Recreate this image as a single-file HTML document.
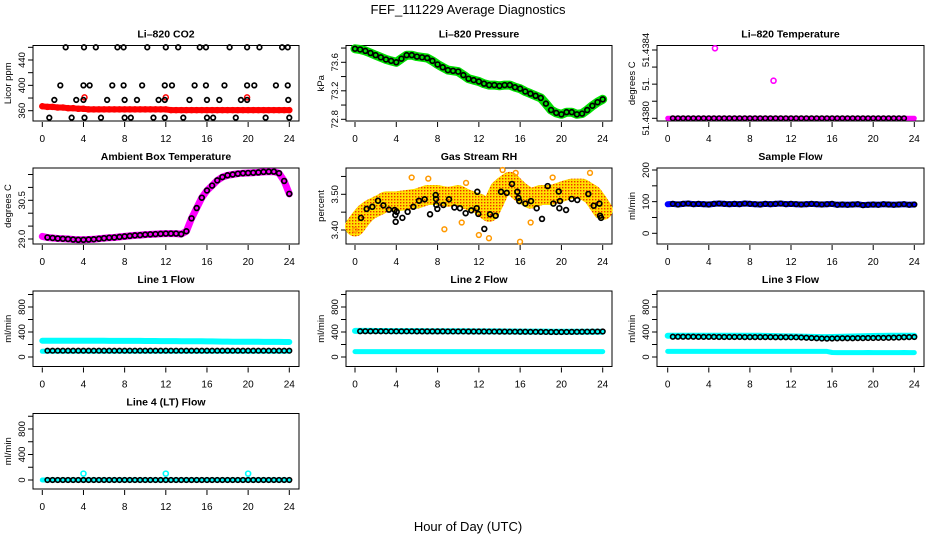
<!DOCTYPE html>
<html><head><meta charset="utf-8"><style>
html,body{margin:0;padding:0;background:#fff}
svg{display:block}
text{font-family:"Liberation Sans",sans-serif}
</style></head><body>
<svg id="chart" width="936" height="540" viewBox="0 0 936 540" xmlns="http://www.w3.org/2000/svg">
<defs>
<pattern id="rhpat" width="3" height="3" patternUnits="userSpaceOnUse">
<rect width="3" height="3" fill="#ffe000"/><rect x="1" y="1" width="1.4" height="1.4" fill="#f03000"/>
</pattern>
</defs>
<text x="468" y="14" font-size="13" text-anchor="middle">FEF_111229  Average Diagnostics</text>
<text x="468" y="531" font-size="13" text-anchor="middle">Hour of Day (UTC)</text>
</svg>
<script>
const hrs=[0,0.5,1,1.5,2,2.5,3,3.5,4,4.5,5,5.5,6,6.5,7,7.5,8,8.5,9,9.5,10,10.5,11,11.5,12,12.5,13,13.5,14,14.5,15,15.5,16,16.5,17,17.5,18,18.5,19,19.5,20,20.5,21,21.5,22,22.5,23,23.5,24];
const xTicks=[0,4,8,12,16,20,24];
const co2Red=[367,366,366,365,365,364,364,363,363,362,362,362,362,362,362,362,362,362,362,362,362,362,362,362,362,361,361,361,361,361,361,361,361,361,361,361,361,361,361,361,361,361,361,361,361,361,361,361,361];
const co2RedOutHr=[4.1,12.0,19.9];
const co2RedOutVal=[381,381,381];
const co2BlkHr=[2.27,4.05,5.2,7.3,7.9,10.2,12.0,13.2,15.3,15.9,18.2,19.9,21.1,23.3,23.85,1.75,4.0,4.6,6.8,7.9,9.7,11.9,12.6,14.8,15.9,17.7,19.9,20.6,22.7,23.85,1.17,3.3,4.0,6.3,8.0,9.2,11.3,11.9,14.3,16.0,17.2,19.3,19.9,23.9,0.68,2.85,4.1,5.7,8.0,8.6,10.8,11.9,13.7,16.0,16.6,18.8,21.7,24.0];
const co2BlkVal=[460,460,460,460,460,460,460,460,460,460,460,460,460,460,460,400,400,400,400,400,400,400,400,400,400,400,400,400,400,400,377,377,377,377,377,377,377,377,377,377,377,377,377,377,349,349,349,349,349,349,349,349,349,349,349,349,349,349];
const pressure=[73.79,73.78,73.76,73.73,73.70,73.67,73.64,73.62,73.60,73.65,73.70,73.70,73.68,73.67,73.66,73.62,73.57,73.53,73.49,73.48,73.47,73.42,73.37,73.35,73.33,73.30,73.28,73.28,73.27,73.28,73.28,73.25,73.23,73.19,73.16,73.13,73.10,73.02,72.93,72.89,72.87,72.90,72.90,72.87,72.88,72.93,72.99,73.04,73.08];
const liTemp=[51.4380,51.4380,51.4380,51.4380,51.4380,51.4380,51.4380,51.4380,51.4380,51.4380,51.4380,51.4380,51.4380,51.4380,51.4380,51.4380,51.4380,51.4380,51.4380,51.4380,51.4380,51.4380,51.4380,51.4380,51.4380,51.4380,51.4380,51.4380,51.4380,51.4380,51.4380,51.4380,51.4380,51.4380,51.4380,51.4380,51.4380,51.4380,51.4380,51.4380,51.4380,51.4380,51.4380,51.4380,51.4380,51.4380,51.4380,51.4380,51.4380];
const liTempOutHr=[4.6,10.3];
const liTempOutVal=[51.43841,51.43822];
const ambient=[29.10,29.06,29.04,29.02,29.01,29.00,28.98,28.97,28.97,28.98,28.99,29.01,29.03,29.05,29.06,29.08,29.10,29.12,29.14,29.15,29.17,29.18,29.19,29.20,29.21,29.21,29.21,29.19,29.30,29.80,30.20,30.60,30.88,31.07,31.27,31.40,31.47,31.50,31.53,31.55,31.56,31.57,31.58,31.60,31.61,31.61,31.55,31.25,30.75];
const rhBand=[3.41,3.43,3.447,3.458,3.465,3.472,3.48,3.48,3.48,3.482,3.484,3.486,3.488,3.493,3.498,3.498,3.498,3.495,3.493,3.495,3.498,3.49,3.484,3.479,3.474,3.462,3.451,3.48,3.512,3.525,3.535,3.52,3.507,3.497,3.488,3.493,3.498,3.498,3.498,3.502,3.507,3.512,3.516,3.516,3.516,3.507,3.498,3.478,3.456];
const rhOutHr=[0,5.49,8.66,10.34,12.0,12.98,14.3,15.57,15.99,17.02,19.15,22.77,7.1,10.76];
const rhOutVal=[3.40,3.547,3.402,3.421,3.386,3.377,3.568,3.560,3.367,3.421,3.547,3.560,3.544,3.532];
const rhBlkHr=[0.58,1.13,1.68,2.23,2.75,3.29,3.84,3.91,4.04,3.94,4.59,5.10,5.65,6.20,6.75,7.27,7.82,7.85,7.88,7.98,8.56,9.11,9.63,10.17,10.72,11.27,11.79,11.85,11.95,12.53,13.08,13.63,14.15,14.70,15.21,15.73,15.83,15.92,16.51,17.05,17.60,18.12,18.67,19.22,19.74,19.80,19.86,20.45,20.99,21.54,22.61,23.13,23.68,23.74,23.84];
const rhBlkVal=[3.434,3.459,3.465,3.482,3.469,3.457,3.456,3.442,3.451,3.423,3.434,3.451,3.465,3.482,3.486,3.444,3.498,3.487,3.470,3.459,3.470,3.486,3.463,3.461,3.447,3.455,3.461,3.507,3.445,3.403,3.444,3.440,3.507,3.504,3.529,3.507,3.490,3.481,3.474,3.481,3.461,3.431,3.523,3.474,3.508,3.461,3.481,3.456,3.487,3.484,3.501,3.468,3.474,3.440,3.434];
const sampleFlow=[92,93,91,93,94,92,93,92,91,93,94,93,92,93,92,94,93,92,91,93,92,93,94,92,93,92,91,92,93,92,91,92,93,90,91,90,91,92,89,90,91,90,92,91,90,91,92,90,91];
const line1Up=[261,261,261,261,261,260,260,260,260,259,259,259,259,258,258,258,258,257,257,257,256,256,256,255,255,254,254,253,253,252,252,251,250,249,248,247,246,245,245,244,244,243,243,242,242,241,241,240,240];
const line1Low=[91,91,91,91,91,91,91,91,91,91,91,91,91,91,91,91,91,91,91,91,91,91,91,91,91,91,91,91,91,91,91,91,91,91,91,91,91,91,91,91,91,91,91,91,91,91,91,91,91];
const line1Blk=[101,101,101,101,101,101,101,101,101,101,101,101,101,101,101,101,101,101,101,101,101,101,101,101,101,101,101,101,101,101,101,101,101,101,101,101,101,101,101,101,101,101,101,101,101,101,101,101,101];
const line2Up=[418,417,417,417,416,416,416,415,415,415,415,414,414,414,413,413,413,412,412,412,411,411,411,410,410,410,409,409,409,408,408,408,407,407,407,406,406,406,405,405,405,405,405,405,405,405,405,405,405];
const line2Low=[86,86,86,86,86,86,86,86,86,86,86,86,86,86,86,86,86,86,86,86,86,86,86,86,86,86,86,86,86,86,86,86,86,86,86,86,86,86,86,86,86,86,86,86,86,86,86,86,86];
const line2Blk=[412,412,412,412,412,412,411,411,411,411,411,411,410,410,410,410,410,410,409,409,409,409,408,408,408,408,407,407,406,406,405,405,404,404,403,403,402,401,400,400,400,401,402,403,404,405,406,407,408];
const line3Up=[340,340,340,340,340,340,340,340,340,340,340,340,340,340,340,340,340,340,340,338,336,334,332,330,330,328,326,324,322,320,318,318,320,322,324,326,328,330,332,334,336,338,338,340,340,340,340,340,340];
const line3Low=[90,90,90,90,90,90,90,90,90,90,90,90,90,90,90,90,90,90,90,90,90,90,90,90,90,90,90,90,90,90,90,90,72,70,70,70,70,70,70,72,70,70,70,70,70,70,72,70,70];
const line3Blk=[324,324,324,324,324,324,322,322,322,322,320,320,320,320,320,318,318,318,318,318,318,316,316,316,315,315,312,308,304,300,296,294,296,298,300,300,300,302,302,304,304,306,306,308,310,312,316,318,320];
const line4Flow=[0,0,0,0,0,0,0,0,0,0,0,0,0,0,0,0,0,0,0,0,0,0,0,0,0,0,0,0,0,0,0,0,0,0,0,0,0,0,0,0,0,0,0,0,0,0,0,0,0];
const line4OutHr=[4,12,20];
const line4OutVal=[100,100,100];

const NS='http://www.w3.org/2000/svg';
const svg=document.getElementById('chart');
const cols=[{bl:33,br:299,x0:42.3,x24:289.3},{bl:346,br:612,x0:355,x24:602.7},{bl:657,br:924,x0:667.7,x24:914.3}];
const rows=[{t:45.5,b:121},{t:168,b:244},{t:291,b:366.5},{t:413.5,b:489}];
function el(parent,tag,attrs){const e=document.createElementNS(NS,tag);for(const k in attrs)e.setAttribute(k,attrs[k]);parent.appendChild(e);return e;}
function makePanel(p){
  const c=cols[p.col],r=rows[p.row];
  const g=el(svg,'g',{});
  
  
  p.g=g;
  p.x=h=>c.x0+h*(c.x24-c.x0)/24;
  p.y=v=>p.yA+(v-p.vA)*(p.yB-p.yA)/(p.vB-p.vA);
  const t=el(g,'text',{x:(c.bl+c.br)/2,y:r.t-8,'font-size':10.5,'font-weight':'bold','text-anchor':'middle'});
  t.textContent=p.title;
  
  
  const box=el(g,'rect',{x:c.bl,y:r.t,width:c.br-c.bl,height:r.b-r.t,fill:'none',stroke:'#000','stroke-width':1});
  
  
  const yl=el(g,'text',{x:0,y:0,'font-size':9.5,'text-anchor':'middle',transform:`translate(${c.bl-22},${(r.t+r.b)/2}) rotate(-90)`});
  yl.textContent=p.ylab;
  
  
  p.ticks.forEach(v=>{
    const yy=p.y(v);
    const tk=el(g,'line',{x1:c.bl-5,x2:c.bl,y1:yy,y2:yy,stroke:'#000'});
    
    
  });
  p.labels.forEach((lab,i)=>{
    const yy=p.y(p.labelVals[i]);
    const tx=el(g,'text',{x:0,y:0,'font-size':9.5,'text-anchor':'middle',transform:`translate(${c.bl-8},${yy}) rotate(-90)`});
    tx.textContent=lab;
    
    
  });
  xTicks.forEach(h=>{
    const xx=p.x(h);
    const tk=el(g,'line',{x1:xx,x2:xx,y1:r.b+1,y2:r.b+6,stroke:'#000'});
    
    
    const tx=el(g,'text',{x:xx,y:r.b+21,'font-size':10,'text-anchor':'middle'});
    tx.textContent=String(h);
    
    
  });
  return p;
}
function band(p,xs,ys,color,w,name){
  const pts=xs.map((h,i)=>p.x(h).toFixed(1)+','+p.y(ys[i]).toFixed(1)).join(' ');
  const pl=el(p.g,'polyline',{points:pts,fill:'none',stroke:color,'stroke-width':w,'stroke-linejoin':'round','stroke-linecap':'round'});
  
  
}
function dots(p,xs,ys,color,rad,sw,name){
  xs.forEach((h,i)=>{
    const ci=el(p.g,'circle',{cx:p.x(h),cy:p.y(ys[i]),r:rad,fill:'none',stroke:color,'stroke-width':sw});
    
    
  });
}
const range=(a,b,s)=>{const o=[];for(let v=a;v<=b+1e-9;v+=s)o.push(+v.toFixed(6));return o;};

const p1=makePanel({name:'co2',col:0,row:0,title:'Li–820 CO2',ylab:'Licor ppm',vA:360,yA:110.7,vB:440,yB:60,ticks:range(360,460,20),labels:['360','400','440'],labelVals:[360,400,440]});
band(p1,hrs,co2Red,'#ff0000',6,'co2-red-series');
dots(p1,hrs,co2Red,'#ff0000',2.5,1.5,'co2-red-point');
dots(p1,co2RedOutHr,co2RedOutVal,'#ff0000',2.5,1.5,'co2-red-outlier');
dots(p1,co2BlkHr,co2BlkVal,'#000',2.3,1.7,'co2-black-point');

const p2=makePanel({name:'pressure',col:1,row:0,title:'Li–820 Pressure',ylab:'kPa',vA:72.8,yA:119.3,vB:73.6,yB:62.3,ticks:range(72.8,73.8,0.2),labels:['72.8','73.2','73.6'],labelVals:[72.8,73.2,73.6]});
band(p2,hrs,pressure,'#00e000',9,'pressure-green-series');
dots(p2,hrs,pressure,'#000',2.4,1.7,'pressure-black-point');

const p3=makePanel({name:'li-temperature',col:2,row:0,title:'Li–820 Temperature',ylab:'degrees C',vA:51.4380,yA:118.3,vB:51.4384,yB:50,ticks:range(51.4380,51.4384,0.0001),labels:['51.4380','51.','51.4384'],labelVals:[51.4380,51.4382,51.4384]});
band(p3,hrs,liTemp,'#ff00ff',5,'li-temperature-magenta-series');
dots(p3,hrs.slice(1,47),liTemp.slice(1,47),'#000',2.3,1.6,'li-temperature-black-point');
dots(p3,liTempOutHr,liTempOutVal,'#ff00ff',2.5,1.6,'li-temperature-outlier');

const p4=makePanel({name:'ambient-temperature',col:0,row:1,title:'Ambient Box Temperature',ylab:'degrees C',vA:29.0,yA:239,vB:30.5,yB:200.3,ticks:range(29.0,31.5,0.5),labels:['29.0','30.5'],labelVals:[29.0,30.5]});
band(p4,hrs,ambient,'#ff00ff',7,'ambient-magenta-series');
dots(p4,hrs.slice(1),ambient.slice(1),'#000',2.4,1.7,'ambient-black-point');

const p5=makePanel({name:'gas-stream-rh',col:1,row:1,title:'Gas Stream RH',ylab:'percent',vA:3.40,yA:230,vB:3.50,yB:194.3,ticks:range(3.40,3.55,0.05),labels:['3.40','3.50'],labelVals:[3.40,3.50]});
band(p5,hrs,rhBand,'url(#rhpat)',20,'rh-orange-cloud');
dots(p5,rhOutHr,rhOutVal,'#ff9900',2.4,1.5,'rh-orange-outlier');
dots(p5,rhBlkHr,rhBlkVal,'#000',2.4,1.7,'rh-black-point');

const p6=makePanel({name:'sample-flow',col:2,row:1,title:'Sample Flow',ylab:'ml/min',vA:0,yA:233.3,vB:200,yB:170,ticks:range(0,200,50),labels:['0','100','200'],labelVals:[0,100,200]});
band(p6,hrs,sampleFlow,'#0000ff',6,'sample-flow-blue-series');
dots(p6,hrs.slice(1),sampleFlow.slice(1),'#000',2.3,1.6,'sample-flow-black-point');

const flowTicks=range(0,1000,200);
const p7=makePanel({name:'line1-flow',col:0,row:2,title:'Line 1 Flow',ylab:'ml/min',vA:0,yA:357,vB:800,yB:307,ticks:flowTicks,labels:['0','400','800'],labelVals:[0,400,800]});
band(p7,hrs,line1Up,'#00ffff',6,'line1-cyan-upper');
band(p7,hrs,line1Low,'#00ffff',5,'line1-cyan-lower');
dots(p7,hrs.slice(1),line1Blk.slice(1),'#000',2.3,1.6,'line1-black-point');

const p8=makePanel({name:'line2-flow',col:1,row:2,title:'Line 2 Flow',ylab:'ml/min',vA:0,yA:357,vB:800,yB:307,ticks:flowTicks,labels:['0','400','800'],labelVals:[0,400,800]});
band(p8,hrs,line2Up,'#00ffff',6,'line2-cyan-upper');
band(p8,hrs,line2Low,'#00ffff',5,'line2-cyan-lower');
dots(p8,hrs.slice(1),line2Blk.slice(1),'#000',2.3,1.6,'line2-black-point');

const p9=makePanel({name:'line3-flow',col:2,row:2,title:'Line 3 Flow',ylab:'ml/min',vA:0,yA:357,vB:800,yB:307,ticks:flowTicks,labels:['0','400','800'],labelVals:[0,400,800]});
band(p9,hrs,line3Up,'#00ffff',6,'line3-cyan-upper');
band(p9,hrs,line3Low,'#00ffff',5,'line3-cyan-lower');
dots(p9,hrs.slice(1),line3Blk.slice(1),'#000',2.3,1.6,'line3-black-point');

const p10=makePanel({name:'line4-flow',col:0,row:3,title:'Line 4 (LT) Flow',ylab:'ml/min',vA:0,yA:480,vB:800,yB:429,ticks:flowTicks,labels:['0','400','800'],labelVals:[0,400,800]});
band(p10,hrs,line4Flow,'#00ffff',5,'line4-cyan-series');
dots(p10,line4OutHr,line4OutVal,'#00ffff',2.5,1.6,'line4-cyan-outlier');
dots(p10,hrs.slice(1),line4Flow.slice(1),'#000',2.3,1.6,'line4-black-point');
</script>
</body></html>
